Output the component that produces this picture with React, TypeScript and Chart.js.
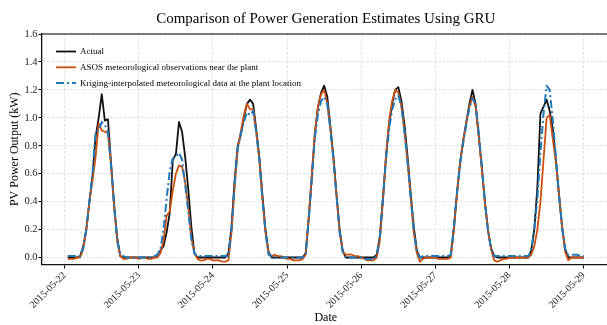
import { useEffect, useRef } from 'react';
import { Chart, registerables } from 'chart.js';

Chart.register(...registerables);

const FONT = "'Liberation Serif', 'Times New Roman', serif";
const TITLE = 'Comparison of Power Generation Estimates Using GRU';
const X_TITLE = 'Date';
const Y_TITLE = 'PV Power Output (kW)';

// Tick labels: one per day, at x = 0..7 (days since 2015-05-22 00:00)
const dateLabels = ['2015-05-22', '2015-05-23', '2015-05-24', '2015-05-25', '2015-05-26', '2015-05-27', '2015-05-28', '2015-05-29'];
const yTicks = [0, 0.2, 0.4, 0.6, 0.8, 1.0, 1.2, 1.4, 1.6];

const seriesNames = [
  'Actual',
  'ASOS meteorological observations near the plant',
  'Kriging-interpolated meteorological data at the plant location',
];

// Hourly values, one row per day: hours 01:00 .. 24:00 (24:00 = next day 00:00)
const actual = [
  0, 0, 0, 0, 0.01, 0.08, 0.2, 0.4, 0.58, 0.86, 1.0, 1.17, 0.98, 0.99, 0.68, 0.38, 0.14, 0.01, 0, 0, 0, 0, 0, 0,
  0, 0, 0, 0, 0, 0.02, 0.05, 0.08, 0.18, 0.32, 0.7, 0.74, 0.97, 0.9, 0.72, 0.49, 0.22, 0.03, 0, 0, 0, 0, 0, 0,
  0, 0, 0, 0, 0.03, 0.22, 0.55, 0.8, 0.88, 1.0, 1.1, 1.13, 1.1, 0.92, 0.72, 0.45, 0.2, 0.04, 0, 0, 0, 0, 0, 0,
  0, 0, 0, 0, 0, 0.03, 0.28, 0.58, 0.89, 1.08, 1.18, 1.23, 1.15, 0.94, 0.72, 0.45, 0.2, 0.05, 0, 0, 0, 0, 0, 0,
  0, 0, 0, 0, 0.02, 0.15, 0.42, 0.72, 0.95, 1.1, 1.2, 1.22, 1.12, 0.95, 0.72, 0.46, 0.22, 0.05, 0, 0, 0, 0, 0, 0,
  0, 0, 0, 0, 0.02, 0.22, 0.47, 0.68, 0.84, 0.97, 1.1, 1.2, 1.1, 0.88, 0.65, 0.4, 0.2, 0.07, 0.01, 0, 0, 0, 0, 0,
  0, 0, 0, 0, 0, 0, 0.05, 0.2, 0.5, 1.03, 1.08, 1.13, 1.05, 0.92, 0.7, 0.45, 0.22, 0.06, 0, 0, 0, 0, 0, 0,
];

const asos = [
  -0.01, -0.01, -0.01, 0, 0, 0.06, 0.2, 0.4, 0.55, 0.72, 0.96, 0.91, 0.9, 0.89, 0.66, 0.36, 0.12, 0.01, -0.01, -0.01, 0, 0, 0, -0.01,
  0, 0, -0.01, -0.01, 0, 0, 0.03, 0.12, 0.3, 0.33, 0.48, 0.6, 0.66, 0.65, 0.54, 0.36, 0.14, 0.03, -0.01, -0.02, -0.02, -0.01, -0.01, -0.02,
  -0.02, -0.02, -0.03, -0.03, -0.02, 0.18, 0.5, 0.78, 0.9, 1.02, 1.1, 1.06, 1.06, 0.9, 0.7, 0.42, 0.18, 0.03, 0.01, 0.02, 0.01, 0.01, 0, -0.01,
  -0.01, -0.02, -0.02, -0.02, -0.01, 0.02, 0.3, 0.6, 0.9, 1.08, 1.17, 1.2, 1.1, 0.92, 0.7, 0.44, 0.18, 0.04, 0.02, 0.02, 0.02, 0.01, 0.01, 0,
  -0.01, -0.02, -0.02, -0.02, 0, 0.12, 0.4, 0.72, 0.98, 1.12, 1.2, 1.18, 1.08, 0.9, 0.68, 0.43, 0.18, 0.03, -0.03, -0.01, 0, 0, 0, 0,
  -0.01, -0.01, -0.01, -0.01, 0, 0.2, 0.45, 0.68, 0.84, 0.96, 1.08, 1.15, 1.08, 0.87, 0.64, 0.4, 0.2, 0.06, -0.02, -0.03, -0.02, -0.01, -0.01, 0,
  0, 0, 0, 0, 0, 0, 0.02, 0.08, 0.2, 0.4, 0.7, 1.0, 1.02, 0.85, 0.68, 0.45, 0.22, 0.04, -0.02, 0, 0, 0, 0, 0,
];

const kriging = [
  0.01, 0.01, 0.01, 0.01, 0.01, 0.07, 0.2, 0.4, 0.6, 0.9, 0.91, 0.97, 0.95, 0.9, 0.66, 0.37, 0.12, 0.02, 0.01, 0, 0, 0, 0, 0,
  0, 0, 0, 0, 0.01, 0.02, 0.06, 0.2, 0.42, 0.62, 0.71, 0.72, 0.75, 0.7, 0.52, 0.33, 0.13, 0.03, 0.01, 0.01, 0.01, 0.01, 0.01, 0.01,
  0.01, 0.01, 0.01, 0.01, 0.01, 0.2, 0.52, 0.78, 0.88, 0.97, 1.04, 1.02, 1.05, 0.9, 0.7, 0.42, 0.18, 0.02, 0.01, 0, 0, 0, 0, 0,
  0, 0, 0, 0, 0, 0.02, 0.27, 0.56, 0.86, 1.03, 1.12, 1.15, 1.1, 0.92, 0.7, 0.44, 0.18, 0.04, 0, 0, 0, 0, 0, 0,
  -0.01, -0.01, -0.01, -0.01, 0.01, 0.14, 0.42, 0.7, 0.92, 1.06, 1.13, 1.16, 1.08, 0.9, 0.68, 0.43, 0.2, 0.04, 0, 0.01, 0.01, 0.01, 0.01, 0.01,
  0.01, 0.01, 0.01, 0.01, 0.02, 0.22, 0.47, 0.67, 0.82, 0.95, 1.07, 1.14, 1.1, 0.9, 0.66, 0.41, 0.2, 0.06, 0.01, 0.01, 0.01, 0.01, 0.01, 0.01,
  0.01, 0.01, 0.01, 0.01, 0.01, 0.01, 0.04, 0.2, 0.42, 0.75, 1.03, 1.23, 1.2, 0.98, 0.72, 0.45, 0.22, 0.06, 0.02, 0.02, 0.02, 0.02, 0.01, 0.01,
];

const toPoints = (vals: number[]) => vals.map((v, i) => ({ x: (i + 1) / 24, y: v }));

const decorPlugin = {
  id: 'decor',
  afterDraw(chart: any) {
    const { ctx, chartArea } = chart;
    const { left, right, top } = chartArea;
    ctx.save();
    // top spine
    ctx.strokeStyle = '#000';
    ctx.lineWidth = 1.2;
    ctx.setLineDash([]);
    ctx.beginPath();
    ctx.moveTo(left, top);
    ctx.lineTo(right, top);
    ctx.stroke();
    // title
    ctx.fillStyle = '#000';
    ctx.font = `15px ${FONT}`;
    ctx.textAlign = 'center';
    ctx.textBaseline = 'middle';
    ctx.fillText(TITLE, (left + right) / 2, 19.5);
    // legend
    ctx.font = `9px ${FONT}`;
    ctx.textAlign = 'left';
    chart.data.datasets.forEach((ds: any, i: number) => {
      const y = top + 17.5 + i * 15.8;
      ctx.strokeStyle = ds.borderColor;
      ctx.lineWidth = ds.borderWidth;
      ctx.setLineDash(ds.borderDash || []);
      ctx.beginPath();
      ctx.moveTo(left + 14, y);
      ctx.lineTo(left + 34, y);
      ctx.stroke();
      ctx.setLineDash([]);
      ctx.fillStyle = '#000';
      ctx.fillText(ds.label, left + 38, y + 0.5);
    });
    ctx.restore();
  },
};

export default function App() {
  const ref = useRef<HTMLCanvasElement>(null);
  useEffect(() => {
    if (!ref.current) return;
    const chart = new Chart(ref.current, {
      type: 'line',
      data: {
        datasets: [
          { label: seriesNames[0], data: toPoints(actual), borderColor: '#111111', borderWidth: 1.8, order: 3 },
          { label: seriesNames[1], data: toPoints(asos), borderColor: '#cc4f0e', borderWidth: 1.8, order: 2 },
          { label: seriesNames[2], data: toPoints(kriging), borderColor: '#1f78b8', borderWidth: 2, borderDash: [8, 3, 2, 3], order: 1 },
        ],
      },
      options: {
        animation: false,
        responsive: false,
        maintainAspectRatio: false,
        parsing: false,
        layout: { padding: { top: 34, right: 10.5, left: 0, bottom: 0 } },
        elements: { point: { radius: 0 }, line: { tension: 0, borderJoinStyle: 'round', borderCapStyle: 'butt' } },
        plugins: { legend: { display: false }, tooltip: { enabled: false }, title: { display: false } },
        scales: {
          x: {
            type: 'linear',
            min: -0.306,
            max: 7.348,
            afterBuildTicks: (s: any) => { s.ticks = dateLabels.map((_, i) => ({ value: i })); },
            afterFit: (s: any) => { s.height = 60.5; },
            ticks: {
              autoSkip: false,
              minRotation: 45,
              maxRotation: 45,
              padding: 1,
              color: '#222',
              font: { family: FONT, size: 10 },
              callback: (v: any) => dateLabels[Math.round(v)] ?? '',
            },
            grid: { color: 'rgba(200,200,200,0.8)', lineWidth: 0.7, tickColor: '#000', tickLength: 4, tickWidth: 1 },
            border: { display: true, color: '#111', width: 1.3, dash: [2.5, 2] },
            title: { display: true, text: X_TITLE, color: '#000', font: { family: FONT, size: 12 }, padding: { top: 0, bottom: 0 } },
          },
          y: {
            type: 'linear',
            min: -0.05,
            max: 1.6,
            afterBuildTicks: (s: any) => { s.ticks = yTicks.map((v) => ({ value: v })); },
            afterFit: (s: any) => { s.width = 42; },
            ticks: {
              padding: 1,
              color: '#222',
              font: { family: FONT, size: 10.5 },
              callback: (v: any) => Number(v).toFixed(1),
            },
            grid: { color: 'rgba(200,200,200,0.8)', lineWidth: 0.7, tickColor: '#000', tickLength: 3.5, tickWidth: 1 },
            border: { display: true, color: '#111', width: 1.3, dash: [2.5, 2] },
            title: { display: true, text: Y_TITLE, color: '#000', font: { family: FONT, size: 12 }, padding: { top: 7.5, bottom: 0 } },
          },
        },
      } as any,
      plugins: [decorPlugin],
    });
    return () => chart.destroy();
  }, []);

  return (
    <div style={{ position: 'fixed', left: 0, top: 0, width: 607, height: 325, overflow: 'hidden', background: '#fff' }}>
      <canvas ref={ref} width={620} height={325} style={{ display: 'block', width: 620, height: 325 }} />
    </div>
  );
}
